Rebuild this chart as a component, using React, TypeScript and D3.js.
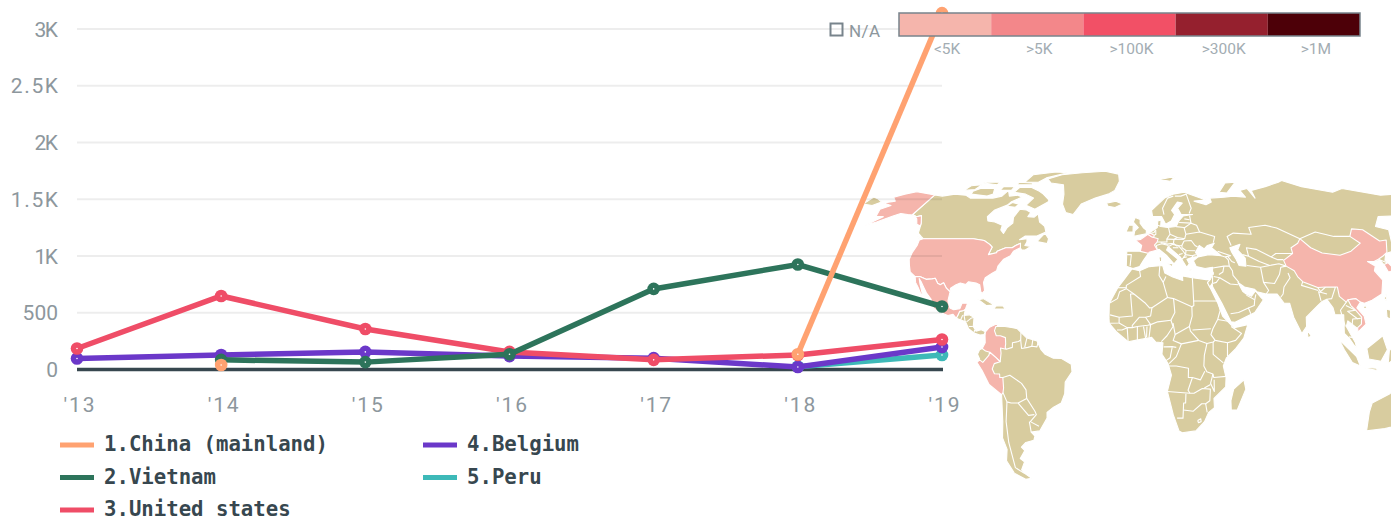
import React from "react";
import * as d3 from "d3";

type P = [number, number];

// ---- chart data ----
const years = ["'13", "'14", "'15", "'16", "'17", "'18", "'19"];
const yTicks = [0, 500, 1000, 1500, 2000, 2500, 3000];
const yLabels = ["0", "500", "1K", "1.5K", "2K", "2.5K", "3K"];
const chinaValues = [null, 40, null, null, null, 135, 3140];
const vietnamValues = [null, 85, 65, 135, 710, 925, 555];
const usValues = [185, 648, 357, 155, 85, 128, 264];
const belgiumValues = [97, 128, 155, 118, 100, 22, 198];
const peruValues = [null, null, null, null, null, 25, 128];
const seriesNames = ["1.China (mainland)", "2.Vietnam", "3.United states", "4.Belgium", "5.Peru"];
const seriesColors = ["#ffa271", "#2d745b", "#ef4d67", "#6b38c9", "#3db9b8"];
const scaleLabels = ["<5K", ">5K", ">100K", ">300K", ">1M"];
const scaleColors = ["#f5b5ac", "#f3878a", "#f25066", "#95202e", "#4d0008"];

// ---- Robinson projection table ----
const robF = [1, 0.9986, 0.9954, 0.99, 0.9822, 0.973, 0.96, 0.9427, 0.9216, 0.8962, 0.8679, 0.835, 0.7986, 0.7597, 0.7186, 0.6732, 0.6213, 0.5722, 0.5322];
const robG = [0, 0.062, 0.124, 0.186, 0.248, 0.31, 0.372, 0.434, 0.4958, 0.5571, 0.6176, 0.6769, 0.7346, 0.7903, 0.8435, 0.8936, 0.9394, 0.9761, 1];

// ---- geography: [lon, lat] ----
const canada: P[] = [[-141,69.6],[-135,69],[-128,70],[-120,69.5],[-115,68],[-108,68],[-100,68],[-95,69],[-94,72],[-90,69],[-85,69.5],[-81,68.5],[-86,66],[-87,64.5],[-93,62],[-94.5,59],[-92.5,57],[-88,56.5],[-82.5,55],[-82,52.9],[-79.5,51.3],[-79,54],[-77,56],[-78.5,58.7],[-77.5,62.5],[-73,62.2],[-69.5,61],[-70,59],[-66,58.8],[-64.5,60.3],[-61.5,56.5],[-57.5,54.5],[-55.7,52],[-60,50.2],[-66.5,50.2],[-69,48.5],[-65,49],[-64.5,47.5],[-65,46],[-61,45.5],[-60,46.5],[-64,44],[-66,44],[-67,45],[-67.8,47],[-70,46],[-71.5,45],[-75,45],[-79,43.5],[-79,42.8],[-83,42],[-82.5,45.3],[-84.5,46.5],[-88.5,48.2],[-95,49],[-123,49],[-125,50],[-128,51.5],[-130,54.7],[-131,56],[-135,59.5],[-137.5,59],[-141,60]];
const usa: P[] = [[-123,49],[-124.7,48.4],[-124,46],[-124.4,43],[-124,40],[-122.5,37.5],[-120.5,34.5],[-117.1,32.5],[-114.7,32.5],[-111,31.3],[-108,31.5],[-106.5,31.8],[-104.5,29.6],[-103,29],[-101.5,29.8],[-99.5,27.5],[-97.2,25.9],[-97.4,27.5],[-95,29],[-93,29.7],[-90,29.1],[-89,30.3],[-85,29.7],[-83,29],[-81.8,26],[-81,25.2],[-80,26.5],[-81.3,30],[-81,32],[-78,33.9],[-76,35],[-76,37],[-74,40],[-71,41.5],[-70.2,43.5],[-67,45],[-67.8,47],[-70,46],[-71.5,45],[-75,45],[-79,43.5],[-79,42.8],[-83,42],[-82.5,45.3],[-84.5,46.5],[-88.5,48.2],[-95,49]];
const alaska: P[] = [[-141,69.6],[-148,70.4],[-156.5,71.3],[-162,70],[-166.5,68.4],[-162,66.5],[-168,65.6],[-161,64.3],[-165,62.5],[-162,59],[-157.5,59],[-163,54.8],[-158,56.5],[-152,59.3],[-149,60.5],[-144,60],[-140,59.7],[-136,58],[-133,55.5],[-130,54.7],[-131,56],[-135,59.5],[-137.5,59],[-141,60]];
const mexico: P[] = [[-117.1,32.5],[-115.8,30],[-114,28],[-112,25.5],[-109.9,22.9],[-110.5,24.2],[-112,27],[-113.2,29],[-114.7,31.7],[-112.8,30],[-110.7,27.5],[-109,25.5],[-106,22.7],[-105.3,20],[-104,18.9],[-101,17.2],[-96.5,15.7],[-94,16.2],[-92.2,14.5],[-91.5,16],[-91,17.5],[-89,17.9],[-88.2,18.5],[-87.5,21],[-90.3,21],[-91,18.7],[-94,18.2],[-96,19],[-97.5,22],[-97.2,25.9],[-99.5,27.5],[-101.5,29.8],[-103,29],[-104.5,29.6],[-106.5,31.8],[-108,31.5],[-111,31.3],[-114.7,32.5]];
const centralAmerica: P[] = [[-92.2,14.5],[-87.5,13],[-85.7,10],[-83,8.2],[-80,7.3],[-78,7.5],[-77.4,8.7],[-79.5,9.6],[-82,9],[-83.5,11],[-83.5,15],[-86,16],[-88.5,15.8],[-88.2,18.5],[-89,17.9],[-91,17.5],[-91.5,16]];
const southAmerica: P[] = [[-77.4,8.7],[-75.5,10.7],[-72,12.2],[-71.5,11],[-68,11],[-64,10.5],[-61.8,10],[-60,8.5],[-57,6],[-52,4.7],[-50,1],[-48,-1],[-44,-2.7],[-40,-2.8],[-35.3,-5.3],[-35,-8.5],[-38.5,-13],[-39,-18],[-41,-22],[-45,-23.8],[-48.5,-26],[-48.8,-28.5],[-53.5,-34],[-58,-34.5],[-56.5,-36.3],[-57.5,-38],[-62,-39],[-65,-41],[-63.7,-42.5],[-67.5,-46],[-65.8,-47.5],[-69,-51],[-68.3,-52.5],[-65.2,-54.8],[-69,-55.3],[-74,-52.5],[-75.5,-47],[-73,-42],[-73.6,-37],[-71.5,-30],[-70.3,-18.4],[-76,-14],[-79,-8],[-81.3,-4.5],[-80,-3],[-81,-1],[-80,1],[-78.7,1.5],[-77.3,4],[-77.5,7]];
const colombia: P[] = [[-77.4,8.7],[-75.5,10.7],[-72,12.2],[-71.5,11],[-72.4,11],[-73,9.2],[-72,7],[-70,7],[-67.5,6.2],[-67.3,3.5],[-67.5,2],[-67,1.2],[-69.8,1.7],[-69.5,-0.5],[-70,-4.2],[-72,-2.4],[-75,-0.1],[-77,0.4],[-78.7,1.5],[-77.3,4],[-77.5,7]];
const peru: P[] = [[-75,-0.1],[-72,-2.4],[-70,-4.2],[-72.9,-5],[-74,-7.3],[-73,-9.4],[-70.5,-9.5],[-70.5,-11],[-69,-11],[-69,-15.5],[-69.5,-17.5],[-70.3,-18.4],[-76,-14],[-79,-8],[-81.3,-4.5],[-80,-3.4],[-78.5,-4.5],[-75.5,-1.5]];
const greenland: P[] = [[-73,78.3],[-65,81],[-50,82.5],[-32,83.6],[-20,81.5],[-18,77],[-20,72],[-24,70],[-32,68],[-40,65],[-43,60],[-48,61],[-52,65],[-54,70],[-58,75],[-68,76]];
const africa: P[] = [[-17,14.7],[-17,21],[-13,27.7],[-9.7,31.5],[-6,35.8],[-2,35],[3,36.8],[10,37.3],[11,34],[15,32.3],[20,30.8],[20,32.8],[25,32],[32,31.2],[34.2,31.3],[32.5,29.9],[34,27],[37,21],[39,15.5],[43.2,11.5],[44.5,10.5],[51.2,11.8],[49,6],[45,1.5],[40.5,-2.5],[39,-6],[40.5,-11],[40.5,-15],[35,-20],[35.5,-24],[32.8,-26],[31,-30],[27,-34],[20,-34.8],[18.3,-34],[15,-27],[11.8,-17],[13.7,-10],[12,-5],[9,-1],[9.5,4],[6,4.3],[4,6.3],[-4,5],[-7.5,4.4],[-13,8.5],[-16.8,12.3]];
const eurasia: P[] = [[34.2,31.3],[35.5,33.5],[36,36.5],[32,36],[27.5,36.8],[26.3,39.3],[29,41],[35,42],[41.5,41.5],[37,45],[39,47],[35,46],[33,44.5],[30.5,46],[28,43],[29,41.2],[26,40.8],[23,40],[24,38],[22.5,36.5],[19.5,41],[13.5,45.5],[12.5,44],[18.3,40],[16,38],[12.5,41.5],[8.5,44.3],[3,43],[0,39.5],[-2,36.8],[-5.5,36],[-9,37],[-9,43.5],[-1.5,43.5],[-1,46],[-4.5,48.3],[-1.5,48.7],[2,51],[4,52],[8,54],[8.5,57],[10.5,57.5],[10,54.5],[14,54],[19,54.5],[21,57],[24,59.3],[30,60],[23,60],[21.5,63],[25,65.5],[22,66],[17.5,62],[19,60],[16.5,57],[13,55.5],[11,59],[5.5,59],[5,62],[14,68],[20,70],[28,71],[41,67],[33,66.5],[40,64.7],[44,66],[44,68],[54,68.5],[60,69],[68,68.5],[67,72],[73,73],[74,68],[75,72],[87,74],[100,76.5],[104,77.5],[113,74],[130,71],[140,73],[160,69.5],[170,70],[180,68.5],[180,65],[177,62.5],[170,60],[163,58],[162,55],[156,51],[156,57],[163,62],[155,59.5],[142,59],[135,54.5],[141,53],[135,43.5],[130,42.5],[127.5,39.5],[129.5,37],[129,35],[126.5,34.5],[126,37.5],[125,39.5],[121.5,39],[118,39],[121,37],[119.5,35],[122,31],[119.5,25],[114,22.3],[110,21],[108,21.5],[105.8,19],[108.8,15.5],[109.3,12],[105,8.6],[105,10],[100.5,13.4],[99.5,11],[103.5,4],[104,1.4],[100.5,6],[98.3,8],[98.8,16],[94.5,16],[94,19],[91.5,22.7],[89,21.8],[86.5,20],[80.2,15],[80,11],[77.5,8],[74,15],[72.7,21],[70,21],[67,25],[61.5,25],[57,26],[56,27],[51,28],[48,30],[50,26],[51.5,25],[54,24],[56.3,26.3],[58.7,23.5],[59.8,22.5],[55,17],[45,12.8],[43,13],[39,21],[35,28],[34.8,29.5],[33.5,28],[32.5,29.9]];
const caspian: P[] = [[47,45],[53,46.5],[51,44],[54,40.5],[53.5,37],[50,37.3],[49,40],[47.5,43]];
const islands: P[][] = [
  [[-62,66],[-68,62.5],[-75,64.5],[-73,68],[-80,70],[-89,71],[-88,73.5],[-80,73.7],[-72,71.5],[-68,70],[-62,67]],
  [[-117,70],[-105,69],[-102,70],[-105,73],[-115,73],[-118,71.5]],
  [[-125,72],[-118,72.5],[-117,75],[-124,74.5]],
  [[-88,76.5],[-78,76.5],[-75,79],[-62,82.5],[-72,83],[-88,81]],
  [[-92,75],[-80,75],[-82,76],[-92,76.5]],
  [[-118,76],[-106,75],[-106,76.5],[-116,76.5]],
  [[-100,72],[-92,72],[-92,74],[-100,74]],
  [[-87,64],[-81,63.5],[-80,65],[-85,65.8]],
  [[-59,47.7],[-53,46.8],[-53,49],[-56,51.5],[-58,49]],
  [[-128,50.7],[-123.5,48.4],[-125,48.7]],
  [[-85,22],[-80,23],[-74.2,20.2],[-78,20],[-82,22.3]],
  [[-74.4,18.5],[-68.4,18.5],[-69.7,19.8],[-73,20]],
  [[-78.3,18.4],[-76.3,18.2],[-77,17.8]],
  [[-67.2,18.5],[-65.7,18.4],[-66,18]],
  [[-24,65.5],[-18,66.4],[-13.5,65],[-18,63.4],[-22.5,64]],
  [[-5.5,50],[1.5,51.2],[1.7,52.7],[-0.2,54],[-2,56],[-2,57.7],[-5,58.6],[-6,56.5],[-3,54],[-5,52.5]],
  [[-10,52],[-6,52],[-6,55],[-8.5,55]],
  [[12.5,38],[15.5,38.2],[15,36.7]],
  [[8.2,41],[9.7,41],[9.5,39],[8.5,39]],
  [[8.6,43],[9.5,43],[9.3,41.5]],
  [[23.5,35.5],[26.3,35.2],[24.5,34.9]],
  [[95.5,5.5],[104,-2],[106,-6],[102,-4.5],[98,1]],
  [[105.5,-6.5],[114.5,-8],[114,-7],[108,-6.5]],
  [[109,1.5],[117,7],[119,1],[116,-4],[110,-3]],
  [[120,1],[124,1],[121,-4],[119.5,-5]],
  [[80,9.5],[82,7],[80.5,6]],
  [[49.3,-12],[50.5,-16],[47,-25],[44,-25],[43.5,-21],[44.5,-16]],
  [[114,-22],[122,-18],[125,-14],[130,-12],[136,-12],[140,-17],[142,-11],[145,-15],[153,-27],[147,-38],[138,-35],[131,-31.5],[124,-33],[115,-34],[113.5,-26]],
  [[52,71],[57,70.6],[68,76.5],[60,76]],
  [[12,78],[25,80],[20,77]],
  [[108.7,19.5],[111,20],[110,18.3]],
  [[120.2,23],[121.8,25.2],[121,22]],
  [[120.3,18.5],[122.3,18],[121.5,14],[120,15]],
  [[-180,68.5],[-175,67.5],[-170,66],[-173,64.3],[-180,65]],
];
const france: P[] = [[2.5,51],[4.2,50],[5.8,49.5],[8.2,49],[7.5,47.5],[6,46.2],[7.5,44],[3,43],[3,42.5],[-1.7,43.4],[-1,46],[-4.5,48.3],[-1.5,48.7]];
const belgium: P[] = [[2.5,51],[4,51.4],[6,50.5],[5.8,49.5],[4.2,50]];
const china: P[] = [[74,39.5],[80,42.5],[80.3,45],[85,47],[87.3,49],[91,45],[96,42.7],[105,41.7],[112,43.5],[119.5,47],[116,50],[120,53.4],[126,53],[131,48],[135,48.4],[131,43],[130,42.5],[128,41.5],[124.3,40],[121.5,39],[118,39],[121,37],[119.5,35],[122,31],[119.5,25],[114,22.3],[110,21],[108,21.5],[106,23],[102,22.5],[101,21.5],[98,24],[98,28],[92,28],[88,27.8],[81,30.3],[79,32.5],[78,35],[74.5,37]];
const southKorea: P[] = [[126,37.7],[128.5,38.5],[129.5,37],[129,35],[126.5,34.5]];
const vietnam: P[] = [[108,21.5],[106,23],[102,22.5],[103,20],[105,18],[107.5,15],[107,12],[105,10.5],[105,8.6],[109.3,12],[108.8,15.5],[105.8,19]];
const borders: P[][] = [
  // Central America
  [[-90,13.8],[-89.2,15.9]],[[-87.7,13],[-88.5,15.8]],[[-87,13],[-85,14.5],[-83.3,15]],[[-85.7,11],[-83.7,11]],[[-83,8.2],[-82.7,9.5]],
  // South America
  [[-67,1.2],[-64,2],[-64,4],[-61,4.5],[-60,5.2],[-60,8.5]],[[-60,5.2],[-59.5,1.5],[-56.5,2],[-54.5,2.5],[-52,2.2],[-51.5,4.2]],[[-57,6],[-58,2]],[[-54,5.8],[-54.5,2.5]],
  [[-69,-11],[-65.5,-10],[-60,-13.5],[-58,-16.3],[-58,-20],[-54.5,-25.5],[-54,-27],[-57.5,-30],[-53.5,-32]],[[-69.5,-17.5],[-68,-21.5],[-66,-22],[-62.5,-22],[-58,-20]],[[-62.5,-22],[-58,-27.3],[-55,-27]],[[-68,-21.5],[-69.8,-30],[-71,-39],[-72,-50],[-68.5,-52.5]],[[-58,-34.5],[-58,-30]],
  // Africa
  [[-2,35],[-1.5,32.5],[-8.7,28.7],[-8.7,27.3]],[[-13,27.7],[-8.7,27.7]],[[-8.7,27.3],[-12,26],[-13,23],[-17,21]],[[-8.7,27.3],[-4.8,25],[1,21],[3,19],[4.2,19.1],[12,23.5],[10,30],[8,33],[8.5,37]],[[10,30],[11.5,32.5]],
  [[25,32],[25,22],[37,22]],[[25,22],[25,20],[24,19.5],[15,23],[12,23.5]],[[24,19.5],[24,15.5],[22.5,11],[23,9],[27,5]],[[15,23],[15.5,17],[13.5,13.7]],[[4.2,19.1],[3.5,15.5],[1,15],[3.5,11.8],[7,13],[13.5,13.7]],[[3.5,11.8],[2.7,6.3]],[[13.5,13.7],[14.5,11],[11.5,7],[8.7,4.5]],[[14.5,12.5],[15,10],[15.5,7.5],[22.5,11]],[[15.5,7.5],[14.5,5],[18.5,3.5],[27,5]],
  [[-4.8,25],[-6.5,25],[-5.5,15.5],[-12,15],[-16.5,16]],[[-12,15],[-12,12.5],[-16.8,12.4]],[[-12,12.5],[-8,10.5],[-5.5,10.5],[-3,11],[2,11.5],[3.5,11.8]],[[1,15],[-2,15],[-5.5,11.5],[-5.5,10.5]],[[-13,9.5],[-10.5,9.5],[-8,10.5],[-7.5,4.4]],[[-3,11],[-3,5]],[[0,11],[1,6]],[[1.7,11],[1.5,6.3]],
  [[37,22],[38,18],[36.5,14],[34,10],[33,7.5],[35,5],[41,4],[45,5],[48,8],[43,11]],[[36.5,14],[43,13]],[[24,9.5],[33,10]],[[27,5],[31,3.7],[34,4.3],[35,5]],[[34,4.3],[34,-1],[39,-4.7]],[[41,4],[41,-1.7]],[[31,3.7],[29.7,-1.3],[29.5,-6],[31,-8.5],[34,-9.5],[34.5,-11],[40.5,-10.5]],[[34,-9.5],[33,-13.5],[35,-17],[34.7,-12]],
  [[9.8,2.2],[14,2.3],[16,2]],[[14,2],[13,-2.5],[11,-3.7]],[[18.5,3.5],[16,-2],[12.5,-5]],[[12.5,-6],[16,-6],[22,-7],[22,-11],[24,-11],[28,-12],[30,-8.3]],[[24,-11],[22,-16.5],[23,-17.8]],[[11.8,-17],[23,-17.8],[25,-17.8],[29,-15.7],[33,-16],[33,-21],[31,-22.3],[29,-22.3],[25,-25.5],[20,-25]],[[21,-18],[21,-22],[20,-22],[20,-28.5],[17,-28.5]],[[31,-22.3],[32,-26]],[[30,-15.5],[33,-14]],[[27.5,-29.5],[29,-28.8],[29.3,-30],[28,-30.5],[27.5,-29.5]],
  // Europe
  [[4,51.4],[6,51.8],[7,53]],[[7,53],[7,51],[6,50.5]],[[7.5,47.5],[10,47.5],[13,47.5],[13,48.8],[15,51],[14.5,54]],[[8.5,55],[10,54.5]],[[15,51],[19,49.5],[23,49],[24,51],[23.5,54],[19,54.4]],[[13,48.8],[17,48.7],[19,49.5]],[[9.5,47.3],[13,46.6],[16.5,47],[17,48.7]],[[7.5,44],[7,46],[10,46.8],[13.7,46]],[[-8.8,42],[-6.5,42],[-7,37]],[[16.5,47],[18,45.8],[21,46],[22.5,48]],[[17,48.7],[22.5,48.7]],[[22.5,48],[26.5,48.2],[28.2,46],[29.5,45.3]],[[21,46],[21,45],[23,43.8],[28,43.7]],[[23,43.8],[22.5,42],[26,41.5],[28,42]],[[24,51],[32,52],[40,50],[38.5,47.2]],[[23.5,53.8],[28,56],[31,55],[32,52]],[[28,56],[21,56.3]],[[24.5,58],[27.5,57.6]],[[28,59.5],[28,56]],[[28,60.5],[30,63],[29,70],[25,69],[21,69]],[[12.5,60],[12,63],[16,68],[20,69]],[[13.7,45.5],[16,46.5],[19,46],[21,44],[22.5,42],[21,40.5],[20,39.7]],[[19,42],[21,42.5]],[[23,41],[21,40.7]],[[16,45],[19,45]],[[26,41.5],[26.3,40.8]],
  // Middle East / Caucasus
  [[36,36.2],[42,37],[44.8,37]],[[41.5,41.5],[43.5,41],[44.8,39.7],[44.8,37]],[[40,43.5],[46.5,41.5],[43.5,41]],[[45,41],[46.5,39],[48,38.5]],[[44.8,37],[46,35],[46,33],[48.5,30]],[[42,37],[41,34.5],[38.8,33.4]],[[39,32],[44,29.3],[48,29]],[[36,32.5],[39,32],[37,30],[35,29.5]],[[35,29.5],[35.5,33]],[[36,34.6],[36,33.3]],[[43,16.5],[47,17],[52,19],[53,16.5]],[[52,19],[55,20],[55.5,22.5],[56.3,24.8]],[[51.5,24.5],[55.5,22.5]],
  // Central Asia
  [[54,37.3],[61,36.5],[61,30],[63,26.5],[61.5,25]],[[61,30],[66.5,29.5],[70,33.5],[71.5,36.5],[74.5,37]],[[61,36.5],[66,37.3],[71,38],[74.5,37]],[[53,42],[56,41.3],[56,45],[61,44.3],[68,41],[71,42.5],[80,42.5]],[[48,46],[47,50],[51,51.5],[61,51],[61,54],[71,55],[77,53.8],[87.3,49]],[[56,41.3],[61,39],[66,37.3]],[[68,41],[71,39.8],[74,39.8]],[[87.3,49],[98,52],[107,50],[116,50]],
  // South & SE Asia
  [[74.5,34],[75,32],[71,28],[70,25],[68.5,23.5]],[[81,30.3],[80,28.7],[88,26.5]],[[88,27.8],[89,26],[92,28],[97,28],[94,23],[91.5,22.7]],[[92,25],[88,26],[88.5,22]],[[101,21.5],[97.5,18],[99,11]],[[100.5,20],[105,18],[101,17.5],[105.5,14.2]],[[102.5,12],[103,14.2],[107,14.5]],[[100.5,6.5],[102,6.3]],[[124.3,40],[128,38.5]],
];

// ---- projection ----
function robinsonRaw(lambda: number, phi: number): [number, number] {
  const deg = (Math.abs(phi) * 180) / Math.PI;
  const i = Math.min(17, Math.floor(deg / 5));
  const t = deg / 5 - i;
  const f = robF[i] + (robF[i + 1] - robF[i]) * t;
  const g = robG[i] + (robG[i + 1] - robG[i]) * t;
  return [0.8487 * f * lambda, 1.3523 * g * Math.sign(phi)];
}
const projection = d3.geoProjection(robinsonRaw).scale(138.4).translate([1143.5, 352]);
const shape = (pts: P[], close = true) => {
  const d = d3.line()(pts.map((p) => projection(p) as P)) as string;
  return close ? d + "Z" : d;
};

const land = [canada, centralAmerica, southAmerica, greenland, africa, eurasia, ...islands];
const highlighted = [usa, alaska, mexico, colombia, peru, france, belgium, china, southKorea, vietnam];

// ---- chart scales ----
const x = d3.scalePoint<string>().domain(years).range([77, 942]);
const y = d3.scaleLinear().domain([0, 3000]).range([369.5, 29]);
const allSeries = [chinaValues, vietnamValues, usValues, belgiumValues, peruValues];
const drawOrder = [4, 3, 2, 1, 0];
const lineGen = d3
  .line<number | null>()
  .defined((d) => d !== null)
  .x((_, i) => x(years[i]) as number)
  .y((d) => y(d as number));

const axisFont = "Roboto, sans-serif";
const legendFont = "'DejaVu Sans Mono', monospace";
const axisColor = "#8d979d";
const legendRows = [
  { lx: 60, row: 0 },
  { lx: 60, row: 1 },
  { lx: 60, row: 2 },
  { lx: 423, row: 0 },
  { lx: 423, row: 1 },
];
const legendY = d3.scalePoint<number>().domain([0, 1, 2]).range([445, 510]);
const scaleX = d3.scaleBand<string>().domain(scaleLabels).range([899, 1360]);

export default function App() {
  return (
    <svg width={1391} height={518} style={{ position: "absolute", left: 0, top: 0, display: "block" }}>
      <rect width={1391} height={518} fill="#fff" />
      <g stroke="#fff" strokeWidth={1.1} strokeLinejoin="round">
        {land.map((p, i) => <path key={i} d={shape(p)} fill="#d8cc9f" />)}
        <path d={shape(caspian)} fill="#fff" />
        {borders.map((p, i) => <path key={i} d={shape(p, false)} fill="none" />)}
        {highlighted.map((p, i) => <path key={i} d={shape(p)} fill="#f5b5ac" />)}
      </g>

      <g>
        {yTicks.map((t, i) => (
          <g key={t}>
            {t > 0 && <line x1={77} x2={942} y1={y(t)} y2={y(t)} stroke="rgba(0,0,0,0.07)" strokeWidth={2} />}
            <text x={58} y={y(t) + 7.5} textAnchor="end" fontFamily={axisFont} fontWeight={400} fontSize={21} textLength={yLabels[i].length * 11.8} fill={axisColor}>{yLabels[i]}</text>
          </g>
        ))}
        {years.map((yr) => (
          <text key={yr} x={(x(yr) as number) + 2} y={412} textAnchor="middle" fontFamily={axisFont} fontWeight={400} fontSize={21} textLength={31} fill={axisColor}>{yr}</text>
        ))}
        <line x1={77} x2={943} y1={y(0)} y2={y(0)} stroke="#37474f" strokeWidth={3.5} />
      </g>

      {drawOrder.map((si) => (
        <g key={si}>
          <path d={lineGen(allSeries[si]) as string} fill="none" stroke={seriesColors[si]} strokeWidth={5.5} />
          {allSeries[si].map((v, i) =>
            v === null ? null : (
              <g key={i}>
                <circle cx={x(years[i])} cy={y(v)} r={6.3} fill={seriesColors[si]} />
                <circle cx={x(years[i])} cy={y(v)} r={0.8} fill="#fff" />
              </g>
            )
          )}
        </g>
      ))}

      {seriesNames.map((name, i) => {
        const r = legendRows[i];
        const ly = legendY(r.row) as number;
        return (
          <g key={name}>
            <line x1={r.lx} x2={r.lx + 34} y1={ly} y2={ly} stroke={seriesColors[i]} strokeWidth={5} />
            <text x={r.lx + 44} y={ly + 6} fontFamily={legendFont} fontWeight={700} fontSize={21.5} textLength={name.length * 12.44} lengthAdjust="spacingAndGlyphs" fill="#37474f">{name}</text>
          </g>
        );
      })}

      <rect x={830.5} y={23.5} width={12} height={12} fill="none" stroke="#78848c" strokeWidth={2} />
      <text x={849} y={37} fontFamily={axisFont} fontWeight={400} fontSize={17} textLength={31} fill={axisColor}>N/A</text>
      {scaleLabels.map((l, i) => (
        <rect key={l} x={scaleX(l)} y={13} width={scaleX.bandwidth()} height={23} fill={scaleColors[i]} />
      ))}
      <rect x={899} y={13} width={461} height={23} fill="none" stroke="#78848c" strokeWidth={1.5} />
      {scaleLabels.map((l) => (
        <text key={l} x={(scaleX(l) as number) + scaleX.bandwidth() / 2 + 2} y={54} textAnchor="middle" fontFamily={axisFont} fontWeight={400} fontSize={15.5} fill="#a3adb3">{l}</text>
      ))}
    </svg>
  );
}
